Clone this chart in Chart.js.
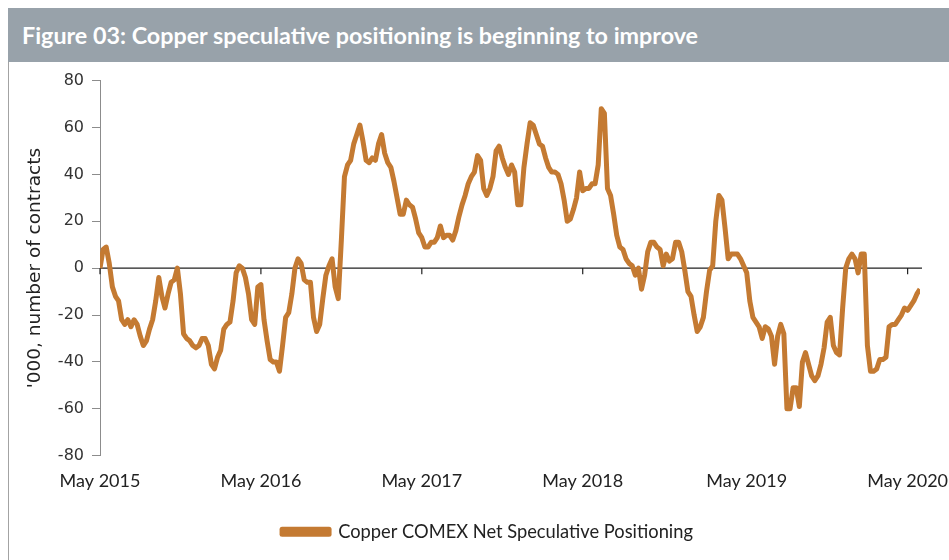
<!DOCTYPE html>
<html>
<head>
<meta charset="utf-8">
<script src="https://cdn.jsdelivr.net/npm/chart.js@4.4.1/dist/chart.umd.min.js"></script>
<style>
    body { margin: 0; background: #fff; }
    .title-bar {
        position: absolute; left: 8px; top: 8px; width: 941px; height: 54px;
        background: #98a2aa; color: #fff;
        font: bold 23.3px Lato, sans-serif; line-height: 55px;
        padding-left: 14px; box-sizing: border-box; white-space: nowrap;
    }
    .frame { position: absolute; left: 8px; top: 62px; width: 1px; height: 498px; background: #a3a3a3; }
    .chart-box { position: absolute; left: 9px; top: 63px; width: 940px; height: 497px; }
</style>
</head>
<body>
<div class="title-bar">Figure 03: Copper speculative positioning is beginning to improve</div>
<div class="frame"></div>
<div class="chart-box"><canvas id="positioningChart"></canvas></div>
<script>
// weekly net speculative positioning, '000 contracts, May 2015 -> Jun 2020
const positioning = [
    0, 8, 9, 2, -8, -12, -14, -22, -24, -22,
    -25, -22, -24, -29, -33, -31, -26, -22, -14, -4,
    -12, -17, -11, -6, -5, 0, -11, -28, -30, -31,
    -33, -34, -33, -30, -30, -33, -41, -43, -38, -35,
    -26, -24, -23, -14, -2, 1, 0, -4, -11, -22,
    -24, -8, -7, -22, -31, -39, -40, -40, -44, -33,
    -21, -19, -11, 0, 4, 2, -5, -6, -6, -21,
    -27, -24, -13, -3, 1, 4, -8, -13, 12, 39,
    44, 46, 53, 57, 61, 54, 46, 45, 47, 46,
    53, 57, 49, 45, 43, 37, 30, 23, 23, 29,
    27, 26, 21, 15, 13, 9, 9, 11, 11, 13,
    18, 13, 14, 14, 12, 16, 22, 27, 31, 36,
    39, 41, 48, 46, 34, 31, 34, 39, 50, 52,
    47, 43, 40, 44, 41, 27, 27, 43, 53, 62,
    61, 57, 53, 52, 47, 43, 41, 41, 40, 36,
    29, 20, 21, 25, 30, 41, 33, 34, 34, 36,
    36, 44, 68, 66, 34, 31, 23, 14, 9, 8,
    4, 2, 1, -3, 0, -9, -3, 7, 11, 11,
    9, 8, 1, 6, 3, 4, 11, 11, 7, -1,
    -10, -12, -20, -27, -25, -21, -10, -1, 1, 20,
    31, 29, 17, 4, 6, 6, 6, 4, 1, -2,
    -14, -21, -23, -25, -30, -25, -26, -29, -41, -29,
    -24, -28, -60, -60, -51, -51, -59, -40, -36, -41,
    -46, -48, -46, -41, -34, -23, -21, -33, -36, -37,
    -17, 0, 4, 6, 4, -2, 6, 6, -33, -44,
    -44, -43, -39, -39, -38, -25, -24, -24, -22, -20,
    -17, -18, -16, -14, -11, -9
];
// week numbers (from the first observation) where each May starts
const mayWeeks = [0, 52, 104, 156, 209, 261];
const mayLabels = ['May 2015', 'May 2016', 'May 2017', 'May 2018', 'May 2019', 'May 2020'];
const yTicks = [-80, -60, -40, -20, 0, 20, 40, 60, 80];

const copper = '#c47a32';

// black zero line with small date ticks hanging from it, like the Excel original
const zeroAxis = {
    id: 'zeroAxis',
    beforeDatasetsDraw(chart) {
        const {ctx, chartArea, scales} = chart;
        const y0 = scales.y.getPixelForValue(0);
        ctx.save();
        ctx.strokeStyle = '#222';
        ctx.lineWidth = 1.2;
        ctx.beginPath();
        ctx.moveTo(chartArea.left, y0);
        ctx.lineTo(chartArea.right + 2, y0);
        mayWeeks.forEach(w => {
            const x = scales.x.getPixelForValue(w);
            ctx.moveTo(x, y0);
            ctx.lineTo(x, y0 + 6);
        });
        ctx.stroke();
        ctx.restore();
    }
};

// legend sits under the middle of the plot in the original, not the canvas
const legendNudge = {
    id: 'legendNudge',
    afterLayout(chart) {
        chart.legend.left += 23;
        chart.legend.right += 23;
    }
};

new Chart(document.getElementById('positioningChart'), {
    type: 'line',
    data: {
        datasets: [{
            label: 'Copper COMEX Net Speculative Positioning',
            data: positioning.map((v, i) => ({x: i, y: v})),
            borderColor: copper,
            backgroundColor: copper,
            borderWidth: 5,
            borderJoinStyle: 'round',
            pointRadius: 0,
            tension: 0
        }]
    },
    options: {
        responsive: true,
        maintainAspectRatio: false,
        animation: false,
        layout: { padding: { top: 17, right: 29, bottom: 9, left: 0 } },
        plugins: {
            tooltip: { enabled: false },
            legend: {
                position: 'bottom',
                labels: {
                    boxWidth: 47,
                    boxHeight: 5,
                    padding: 10,
                    color: '#222',
                    font: { family: 'Lato', size: 18.3 }
                }
            }
        },
        scales: {
            x: {
                type: 'linear',
                min: 0,
                max: positioning.length - 1,
                afterBuildTicks: scale => { scale.ticks = mayWeeks.map(w => ({value: w})); },
                afterFit: scale => {
                    scale.height = 57;
                    scale.paddingLeft = 0;
                    scale.paddingRight = 0;
                },
                grid: { display: false },
                border: { display: false },
                ticks: {
                    autoSkip: false,
                    maxRotation: 0,
                    padding: 7,
                    color: '#222',
                    font: { family: 'Lato', size: 18 },
                    callback: value => mayLabels[mayWeeks.indexOf(value)]
                }
            },
            y: {
                min: -80,
                max: 80,
                afterBuildTicks: scale => { scale.ticks = yTicks.map(v => ({value: v})); },
                afterFit: scale => { scale.width = 91; },
                grid: { drawOnChartArea: false, drawTicks: true, tickLength: 8, color: '#8c8c8c' },
                border: { display: true, color: '#8c8c8c', width: 1 },
                ticks: {
                    padding: 8,
                    color: '#333',
                    font: { family: 'DejaVu Sans', size: 16 }
                },
                title: {
                    display: true,
                    text: "'000, number of contracts",
                    color: '#222',
                    padding: { top: 15, bottom: 0 },
                    font: { family: 'DejaVu Sans', size: 18.5 }
                }
            }
        }
    },
    plugins: [zeroAxis, legendNudge]
});
</script>
</body>
</html>
